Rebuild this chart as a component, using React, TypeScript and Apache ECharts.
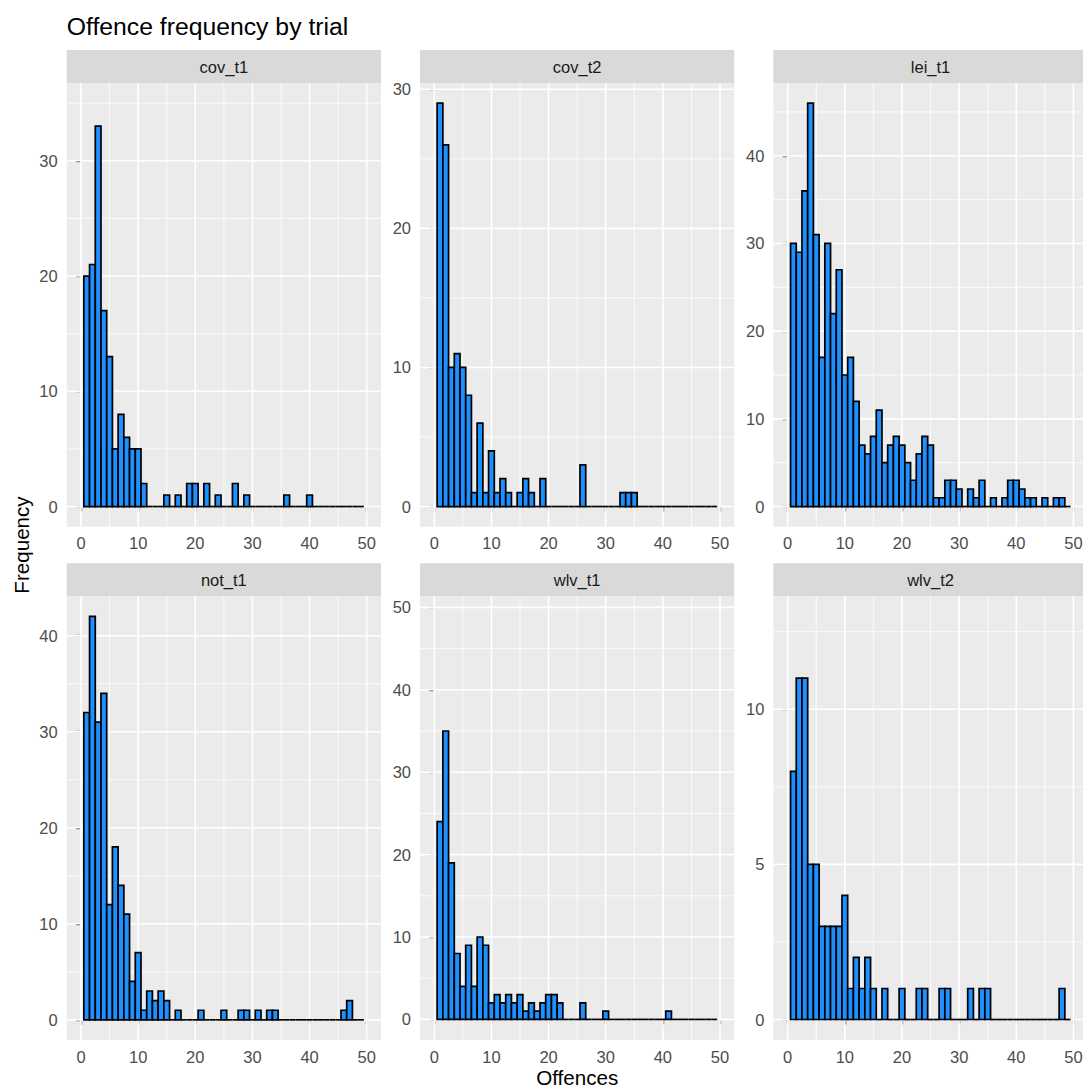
import React, { useEffect, useRef } from "react";
import * as echarts from "echarts";

// ---- Data ----
const panelNames = ["cov_t1", "cov_t2", "lei_t1", "not_t1", "wlv_t1", "wlv_t2"];

// bin centres (offences), binwidth 1
const offences = [
  1, 2, 3, 4, 5, 6, 7, 8, 9, 10, 11, 12, 13, 14, 15, 16, 17, 18, 19, 20,
  21, 22, 23, 24, 25, 26, 27, 28, 29, 30, 31, 32, 33, 34, 35, 36, 37, 38, 39, 40,
  41, 42, 43, 44, 45, 46, 47, 48, 49,
];

const covT1 = [
  20, 21, 33, 17, 13, 5, 8, 6, 5, 5, 2, 0, 0, 0, 1, 0, 1, 0, 2, 2,
  0, 2, 0, 1, 0, 0, 2, 0, 1, 0, 0, 0, 0, 0, 0, 1, 0, 0, 0, 1,
  0, 0, 0, 0, 0, 0, 0, 0, 0,
];
const covT2 = [
  29, 26, 10, 11, 10, 8, 1, 6, 1, 4, 1, 2, 1, 0, 1, 2, 1, 0, 2, 0,
  0, 0, 0, 0, 0, 3, 0, 0, 0, 0, 0, 0, 1, 1, 1, 0, 0, 0, 0, 0,
  0, 0, 0, 0, 0, 0, 0, 0, 0,
];
const leiT1 = [
  30, 29, 36, 46, 31, 17, 30, 22, 27, 15, 17, 12, 7, 6, 8, 11, 5, 7, 8, 7,
  5, 3, 6, 8, 7, 1, 1, 3, 3, 2, 0, 2, 1, 3, 0, 1, 0, 1, 3, 3,
  2, 1, 1, 0, 1, 0, 1, 1, 0,
];
const notT1 = [
  32, 42, 31, 34, 12, 18, 14, 11, 4, 7, 1, 3, 2, 3, 2, 0, 1, 0, 0, 0,
  1, 0, 0, 0, 1, 0, 0, 1, 1, 0, 1, 0, 1, 1, 0, 0, 0, 0, 0, 0,
  0, 0, 0, 0, 0, 1, 2, 0, 0,
];
const wlvT1 = [
  24, 35, 19, 8, 4, 9, 4, 10, 9, 2, 3, 2, 3, 2, 3, 1, 2, 1, 2, 3,
  3, 2, 0, 0, 0, 2, 0, 0, 0, 1, 0, 0, 0, 0, 0, 0, 0, 0, 0, 0,
  1, 0, 0, 0, 0, 0, 0, 0, 0,
];
const wlvT2 = [
  8, 11, 11, 5, 5, 3, 3, 3, 3, 4, 1, 2, 1, 2, 1, 0, 1, 0, 0, 1,
  0, 0, 1, 1, 0, 0, 1, 1, 0, 0, 0, 1, 0, 1, 1, 0, 0, 0, 0, 0,
  0, 0, 0, 0, 0, 0, 0, 1, 0,
];
const panelCounts = [covT1, covT2, leiT1, notT1, wlvT1, wlvT2];

// axis ticks
const xTicks = [0, 10, 20, 30, 40, 50];
const xMinor = [5, 15, 25, 35, 45];
const xRange = [-2.5, 52.5];
const yTicks = [
  [0, 10, 20, 30],
  [0, 10, 20, 30],
  [0, 10, 20, 30, 40],
  [0, 10, 20, 30, 40],
  [0, 10, 20, 30, 40, 50],
  [0, 5, 10],
];
const yMinor = [
  [5, 15, 25, 35],
  [5, 15, 25],
  [5, 15, 25, 35, 45],
  [5, 15, 25, 35],
  [5, 15, 25, 35, 45],
  [2.5, 7.5, 12.5],
];
const yRanges = [
  [-1.75, 36.75],
  [-1.45, 30.45],
  [-2.3, 48.3],
  [-2.1, 44.1],
  [-2.5, 51.35],
  [-0.66, 13.64],
];

const titleText = "Offence frequency by trial";
const xTitle = "Offences";
const yTitle = "Frequency";

// ---- Layout / style ----
const FONT = "'Liberation Sans', Arial, Helvetica, sans-serif";
const COLS = [66.7, 420, 773.4];
const PW = 314.3;
const ROWS = [50, 563.3];
const STRIP_H = 33;
const PH = 443.7;

export default function App() {
  const ref = useRef<HTMLDivElement>(null);

  useEffect(() => {
    const chart = echarts.init(ref.current!, null, { renderer: "svg" });
    const grids: any[] = [];
    const xAxes: any[] = [];
    const yAxes: any[] = [];
    const series: any[] = [];
    const graphics: any[] = [];

    panelNames.forEach((name, i) => {
      const col = i % 3;
      const row = Math.floor(i / 3);
      const left = COLS[col];
      const stripTop = ROWS[row];
      const top = stripTop + STRIP_H;

      grids.push({
        left,
        top,
        width: PW,
        height: PH,
        show: true,
        backgroundColor: "#EBEBEB",
        borderWidth: 0,
        containLabel: false,
        outerBoundsMode: "none",
      });

      xAxes.push({
        type: "value",
        gridIndex: i,
        min: xRange[0],
        max: xRange[1],
        splitLine: { show: false },
        axisLine: { show: false },
        axisTick: {
          show: true,
          length: 5,
          lineStyle: { color: "#333333", width: 1.3 },
          customValues: xTicks,
        },
        axisLabel: {
          customValues: xTicks,
          color: "#4D4D4D",
          fontSize: 16.5,
          fontFamily: FONT,
          margin: 8,
        },
      });

      yAxes.push({
        type: "value",
        gridIndex: i,
        min: yRanges[i][0],
        max: yRanges[i][1],
        splitLine: { show: false },
        axisLine: { show: false },
        axisTick: {
          show: true,
          length: 5,
          lineStyle: { color: "#333333", width: 1.3 },
          customValues: yTicks[i],
        },
        axisLabel: {
          customValues: yTicks[i],
          color: "#4D4D4D",
          fontSize: 16.5,
          fontFamily: FONT,
          margin: 9,
        },
      });

      // grid lines (drawn through the axes' scales)
      const gridData: number[][] = [];
      xMinor.forEach((v) => gridData.push([v, 0, 0, 0]));
      yMinor[i].forEach((v) => gridData.push([0, v, 1, 0]));
      xTicks.forEach((v) => gridData.push([v, 0, 0, 1]));
      yTicks[i].forEach((v) => gridData.push([0, v, 1, 1]));

      series.push({
        type: "custom",
        xAxisIndex: i,
        yAxisIndex: i,
        silent: true,
        z: 1,
        data: gridData,
        encode: { x: 0, y: 1 },
        renderItem: (params: any, api: any) => {
          const cs = params.coordSys;
          const orient = api.value(2);
          const major = api.value(3);
          const lw = major ? 1.6 : 0.8;
          if (orient === 0) {
            const px = api.coord([api.value(0), 0])[0];
            return {
              type: "line",
              shape: { x1: px, y1: cs.y, x2: px, y2: cs.y + cs.height },
              style: { stroke: "#FFFFFF", lineWidth: lw },
            };
          }
          const py = api.coord([0, api.value(1)])[1];
          return {
            type: "line",
            shape: { x1: cs.x, y1: py, x2: cs.x + cs.width, y2: py },
            style: { stroke: "#FFFFFF", lineWidth: lw },
          };
        },
      });

      // histogram bars
      const counts = panelCounts[i];
      series.push({
        type: "custom",
        name,
        xAxisIndex: i,
        yAxisIndex: i,
        z: 3,
        data: offences.map((o, j) => [o, counts[j]]),
        encode: { x: 0, y: 1 },
        renderItem: (params: any, api: any) => {
          const x = api.value(0);
          const y = api.value(1);
          const p0 = api.coord([x - 0.5, 0]);
          const p1 = api.coord([x + 0.5, y]);
          if (y === 0) {
            return {
              type: "line",
              shape: { x1: p0[0], y1: p0[1], x2: p1[0], y2: p0[1] },
              style: { stroke: "#000000", lineWidth: 1.7 },
            };
          }
          return {
            type: "rect",
            shape: {
              x: p0[0],
              y: p1[1],
              width: p1[0] - p0[0],
              height: p0[1] - p1[1],
            },
            style: { fill: "#1E90FF", stroke: "#000000", lineWidth: 1.7 },
          };
        },
      });

      // strip
      graphics.push({
        type: "rect",
        left: left,
        top: stripTop,
        shape: { x: 0, y: 0, width: PW, height: STRIP_H },
        style: { fill: "#D9D9D9" },
        silent: true,
      });
      graphics.push({
        type: "text",
        x: left + PW / 2,
        y: stripTop + STRIP_H / 2 + 0.5,
        style: {
          text: name,
          fill: "#1A1A1A",
          font: `16.5px ${FONT}`,
          textAlign: "center",
          textVerticalAlign: "middle",
        },
        silent: true,
      });
    });

    // title and axis titles
    graphics.push({
      type: "text",
      x: 66.7,
      y: 26,
      style: {
        text: titleText,
        fill: "#000000",
        font: `24.75px ${FONT}`,
        textAlign: "left",
        textVerticalAlign: "middle",
      },
    });
    graphics.push({
      type: "text",
      x: (COLS[0] + COLS[2] + PW) / 2,
      y: 1077,
      style: {
        text: xTitle,
        fill: "#000000",
        font: `20.6px ${FONT}`,
        textAlign: "center",
        textVerticalAlign: "middle",
      },
    });
    graphics.push({
      type: "text",
      x: 21,
      y: 545,
      rotation: Math.PI / 2,
      style: {
        text: yTitle,
        fill: "#000000",
        font: `20.6px ${FONT}`,
        textAlign: "center",
        textVerticalAlign: "middle",
      },
    });

    chart.setOption({
      animation: false,
      backgroundColor: "#FFFFFF",
      textStyle: { fontFamily: FONT },
      grid: grids,
      xAxis: xAxes,
      yAxis: yAxes,
      series,
      graphic: graphics,
    });

    return () => chart.dispose();
  }, []);

  return (
    <div
      ref={ref}
      style={{ position: "fixed", left: 0, top: 0, width: 1083, height: 1088 }}
    />
  );
}
